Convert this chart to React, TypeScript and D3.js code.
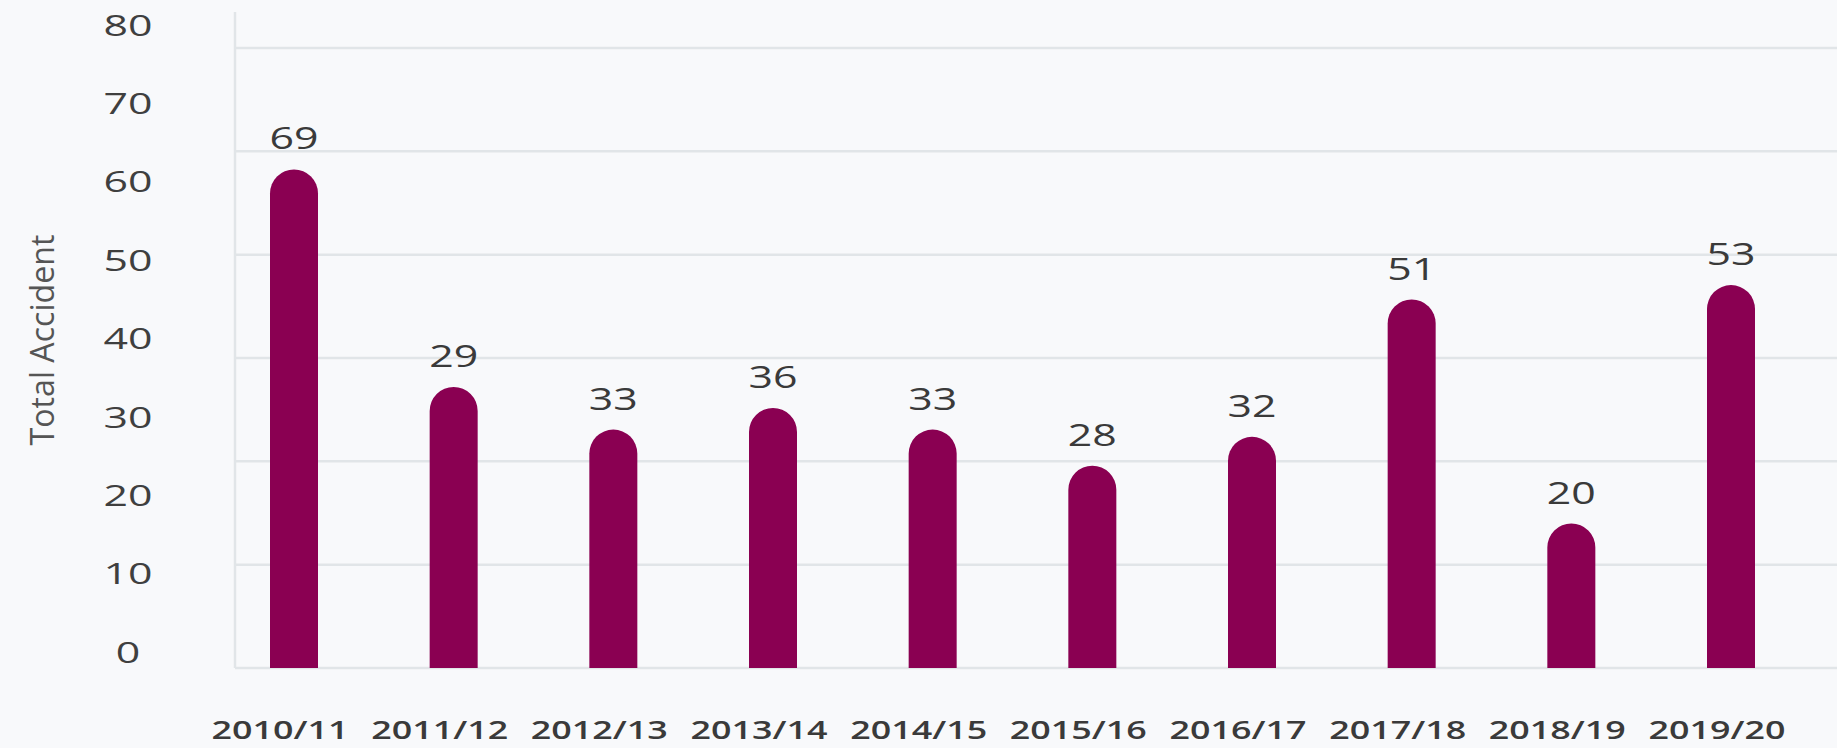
import React from 'react';
import * as d3 from 'd3';

const categories = ['2010/11', '2011/12', '2012/13', '2013/14', '2014/15', '2015/16', '2016/17', '2017/18', '2018/19', '2019/20'];
// bar heights as drawn
const barValues = [69, 38.9, 33, 36, 33, 28, 32, 51, 20, 53];
// printed data labels
const labelValues = [69, 29, 33, 36, 33, 28, 32, 51, 20, 53];
const yTickValues = [0, 10, 20, 30, 40, 50, 60, 70, 80];
const gridSteps = [0, 1, 2, 3, 4, 5, 6];
const yTitle = 'Total Accident';

const W = 1837;
const H = 748;
const BAR_COLOR = '#8a0052';
const GRID_COLOR = '#e1e5e8';
const FONT = '"Open Sans", "Noto Sans", sans-serif';

export default function App() {
  const x = d3.scalePoint<string>().domain(categories).range([294, 1731]);
  const yBar = d3.scaleLinear().domain([0, 80]).range([668, 90]);
  const yTick = d3.scaleLinear().domain([0, 80]).range([652, 25]);
  const yGrid = d3.scaleLinear().domain([0, 6]).range([668, 48]);
  const barW = 48;
  const r = barW / 2;

  const barPath = (cx: number, v: number) => {
    const top = yBar(v);
    const base = yBar(0);
    const p = d3.path();
    p.moveTo(cx - r, base);
    p.lineTo(cx - r, top + r);
    p.arc(cx, top + r, r, Math.PI, 0);
    p.lineTo(cx + r, base);
    p.closePath();
    return p.toString();
  };

  return (
    <svg width={W} height={H} style={{ position: 'absolute', left: 0, top: 0, display: 'block' }}>
      <rect x={0} y={0} width={W} height={H} fill="#f8f9fb" />
      {/* grid */}
      {gridSteps.map((g) => (
        <line key={g} x1={235} x2={W} y1={yGrid(g)} y2={yGrid(g)} stroke={GRID_COLOR} strokeWidth={2.5} />
      ))}
      <line x1={235} x2={235} y1={12} y2={yGrid(0)} stroke={GRID_COLOR} strokeWidth={2.5} />
      {/* y tick labels */}
      {yTickValues.map((t) => {
        const s = String(t);
        return (
          <text
            key={t}
            x={128}
            y={yTick(t) + 10.7}
            textAnchor="middle"
            fontFamily={FONT}
            fontSize={30}
            fill="#3f3f3f"
            textLength={24.5 * s.length}
            lengthAdjust="spacingAndGlyphs"
          >
            {s}
          </text>
        );
      })}
      {/* y title */}
      <text
        transform={`translate(54,340) rotate(-90)`}
        textAnchor="middle"
        fontFamily={FONT}
        fontSize={32}
        fill="#555"
        textLength={211}
        lengthAdjust="spacingAndGlyphs"
      >
        {yTitle}
      </text>
      {/* bars */}
      {categories.map((c, i) => (
        <path key={c} d={barPath(x(c) as number, barValues[i])} fill={BAR_COLOR} />
      ))}
      {/* value labels */}
      {categories.map((c, i) => {
        const s = String(labelValues[i]);
        return (
          <text
            key={'l' + c}
            x={x(c) as number}
            y={yBar(barValues[i]) - 31 + 11}
            textAnchor="middle"
            fontFamily={FONT}
            fontSize={31}
            fill="#3a3a3a"
            textLength={24.5 * s.length}
            lengthAdjust="spacingAndGlyphs"
          >
            {s}
          </text>
        );
      })}
      {/* x labels */}
      {categories.map((c) => (
        <text
          key={'x' + c}
          x={(x(c) as number) - 14}
          y={739}
          textAnchor="middle"
          fontFamily={FONT}
          fontSize={26}
          fontWeight={600}
          fill="#3a3a3a"
          textLength={137}
          lengthAdjust="spacingAndGlyphs"
        >
          {c}
        </text>
      ))}
    </svg>
  );
}
